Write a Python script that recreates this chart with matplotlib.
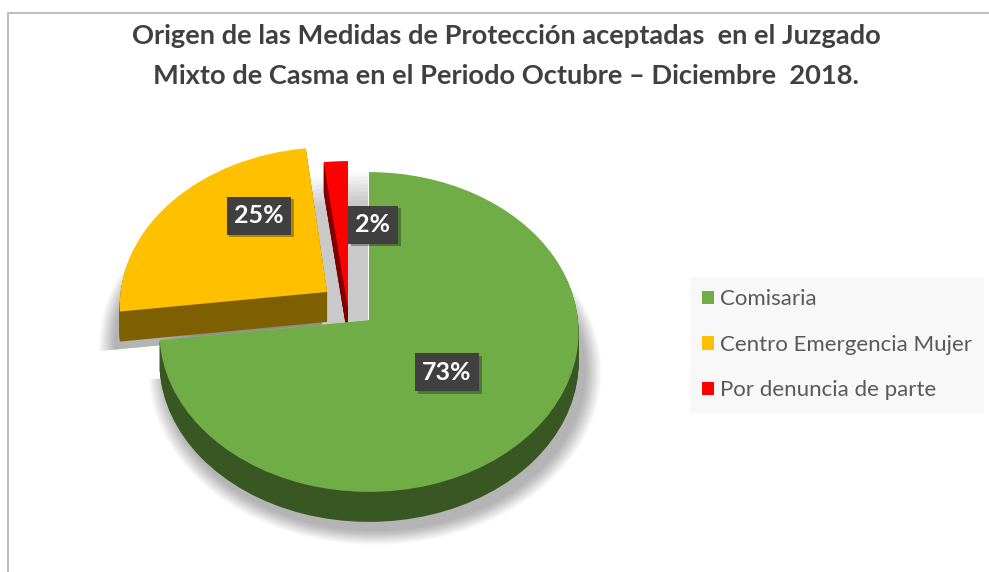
import numpy as np
import matplotlib
matplotlib.use('Agg')
import matplotlib.pyplot as plt
import matplotlib.patheffects as pe
from matplotlib.patches import Patch
from matplotlib.transforms import Transform

title_lines = ['Origen de las Medidas de Protección aceptadas  en el Juzgado',
               'Mixto de Casma en el Periodo Octubre – Diciembre  2018.']
categories = ['Comisaria', 'Centro Emergencia Mujer', 'Por denuncia de parte']
values = [73, 25, 2]
top_colors = ['#70AD47', '#FFC000', '#FF0000']
side_colors = ['#385723', '#7F6000', '#800000']

plt.rcParams['font.family'] = ['Lato', 'DejaVu Sans']


class PieProjection(Transform):
    # pie coordinates (unit radius) to picture pixels, tilted with a little perspective
    input_dims = 2
    output_dims = 2
    is_separable = False
    has_inverse = False

    def __init__(self, dx=0, dy=0):
        super().__init__()
        self.dx = dx
        self.dy = dy

    def transform_non_affine(self, values):
        values = np.asarray(values)
        w = 1 + 0.075 * values[:, 1]
        x = 369 + self.dx + 209 * values[:, 0] / w
        y = 320 + self.dy - 159 * values[:, 1] / w
        return np.column_stack([x, y])


fig = plt.figure(figsize=(9.89, 5.72), dpi=100)
ax = fig.add_axes([0, 0, 1, 1])

explode = [0, 0.25, 0]
pulled_shift = [(0, 0), (-1, -4), (-21, -11)]
no_shift = [(-1, 0), (-1, 0), (-1, 0)]


def layer(colors, zorders, dx=0, dy=0, radius=1.0, alpha=None, pull=explode, shifts=pulled_shift):
    wedges, _ = ax.pie(values, colors=colors, explode=pull, radius=radius, startangle=90,
                       counterclock=False, wedgeprops={'linewidth': 0, 'alpha': alpha})
    for i, w in enumerate(wedges):
        if zorders[i] is None:
            w.remove()
            continue
        w.set_zorder(zorders[i])
        w.set_transform(PieProjection(dx + shifts[i][0], dy + shifts[i][1]) + ax.transData)
    return wedges


# soft shadows under the pie
for i in range(16):
    spread = 0.08 * (1 - i / 16)
    layer(['black'] * 3, [0.1, None, None], dx=6, dy=38, radius=1 + spread, alpha=0.018)
    layer(['black'] * 3, [None, 0.2, None], dx=-4, dy=38, radius=1 + spread, alpha=0.018)

# grey wall left where the two slices were pulled out
for r in np.linspace(1.0, 0.8, 8):
    layer(['black'] * 3, [None, 0.5, 0.5], radius=r, alpha=0.028, pull=[0, 0, 0], shifts=no_shift)

# sides, then the top faces
for d in range(30, 0, -1):
    layer(side_colors, [3, 5, 1], dy=d)
layer(top_colors, [4, 6, 2])

ax.set_aspect('auto')
ax.set_xlim(0, 989)
ax.set_ylim(572, 0)
ax.axis('off')

# chart frame
ax.plot([8, 8, 989], [572, 13, 13], color='#BFBFBF', lw=1.5, zorder=1)

ax.text(506, 36, title_lines[0], ha='center', va='center', fontsize=19.6, fontweight='bold', color='#404040')
ax.text(506, 76, title_lines[1], ha='center', va='center', fontsize=19.6, fontweight='bold', color='#404040')

# data labels
label_pos = [(447, 372), (259, 215.5), (373, 224.5)]
for v, (x, y) in zip(values, label_pos):
    ax.text(x, y, str(v) + '%', ha='center', va='center', fontsize=18, fontweight='bold', color='white',
            zorder=10,
            bbox=dict(boxstyle='square,pad=0.3', fc='#404040', ec='none',
                      path_effects=[pe.withSimplePatchShadow(offset=(2, -2), shadow_rgbFace='black', alpha=0.3),
                                    pe.Normal()]))

handles = [Patch(facecolor=c, edgecolor='none') for c in top_colors]
leg = ax.legend(handles, categories, loc='upper left', bbox_to_anchor=(690, 277), bbox_transform=ax.transData,
                fontsize=16, frameon=True, facecolor='#F8F8F8', edgecolor='none', framealpha=1, fancybox=False,
                labelcolor='#595959', handlelength=0.54, handleheight=0.54, handletextpad=0.27,
                labelspacing=1.15, borderaxespad=0, borderpad=0.55)
leg.set_zorder(10)

fig.savefig('out.png', dpi=100)
